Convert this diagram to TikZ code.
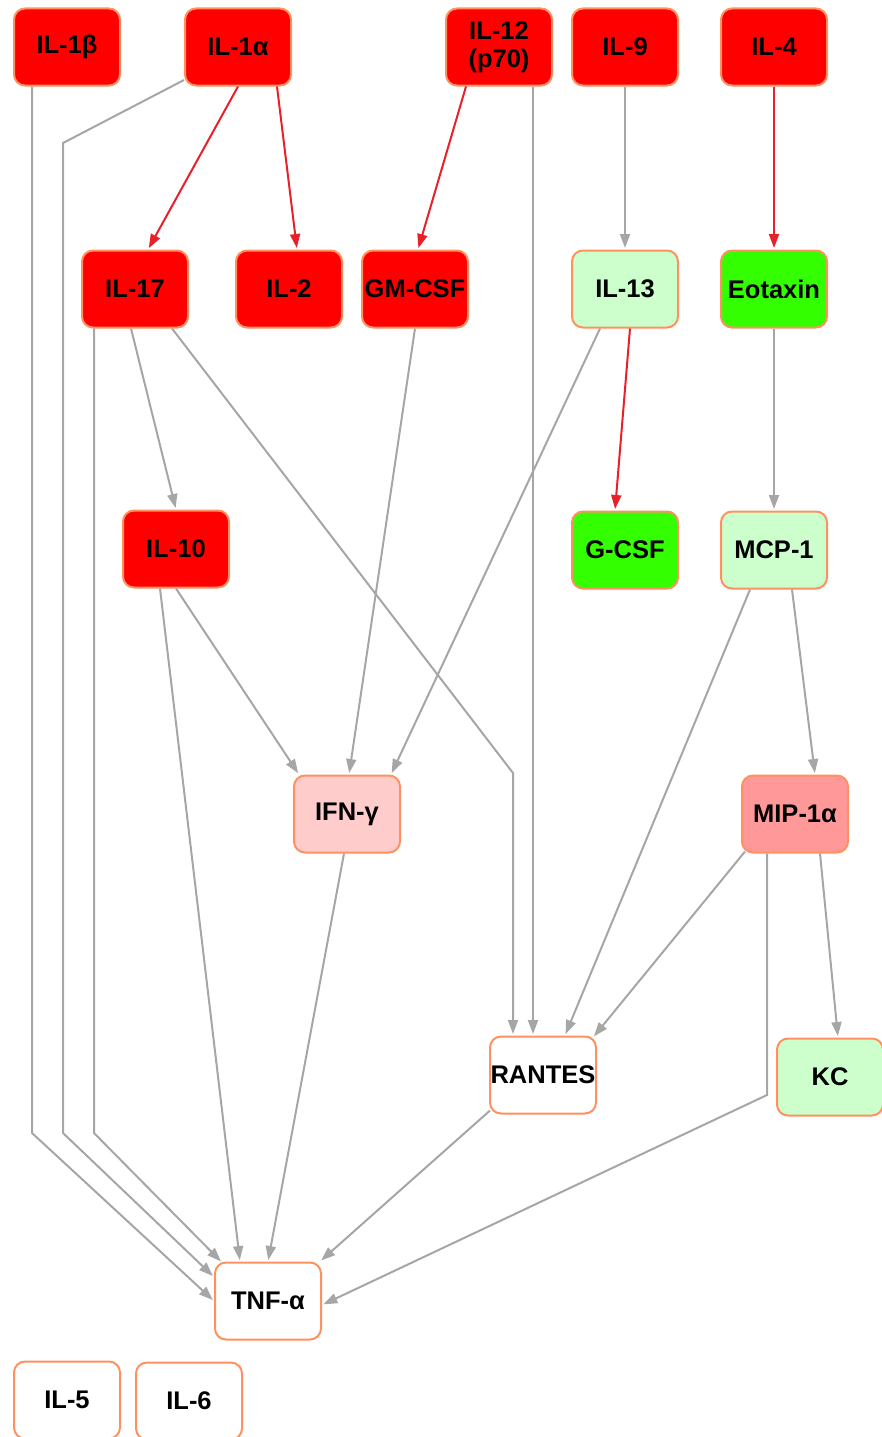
\documentclass[tikz,border=0pt]{standalone}
\usepackage{fontspec}
\setmainfont{Liberation Sans}
\usetikzlibrary{arrows.meta,calc}

\definecolor{nodeborder}{HTML}{FF9160}
\definecolor{upred}{HTML}{FF0000}
\definecolor{lightgreen}{HTML}{CCFFCC}
\definecolor{brightgreen}{HTML}{33FF00}
\definecolor{lightpink}{HTML}{FFCCCC}
\definecolor{midpink}{HTML}{FF9999}
\definecolor{edgegray}{HTML}{A6A6A6}
\definecolor{edgered}{HTML}{E8202A}

\tikzset{
  cyto/.style={draw=nodeborder, line width=2pt, rounded corners=11pt,
    minimum width=106pt, minimum height=77pt, inner sep=0pt, align=center,
    font=\fontsize{25.5}{28}\selectfont\bfseries},
  upnode/.style={cyto, fill=upred},
  lgnode/.style={cyto, fill=lightgreen},
  bgnode/.style={cyto, fill=brightgreen},
  pknode/.style={cyto, fill=lightpink},
  mpnode/.style={cyto, fill=midpink},
  plainnode/.style={cyto, fill=white},
  link/.style={draw=edgegray, line width=2pt, shorten >=1.5pt,
    -{Triangle[length=14pt,width=10pt]}},
  redlink/.style={draw=edgered, line width=2pt, shorten >=1.5pt,
    -{Triangle[length=14pt,width=10pt]}},
}

\begin{document}
\begin{tikzpicture}[x=1pt,y=-1pt]
\useasboundingbox (0,0) rectangle (881,1437);

% cytokine nodes
\node[upnode] (il1b)  at (67,47)   {IL-1β};
\node[upnode] (il1a)  at (238,47)  {IL-1α};
\node[upnode] (il12)  at (499,47)  {IL-12\\(p70)};
\node[upnode] (il9)   at (625,47)  {IL-9};
\node[upnode] (il4)   at (774,47)  {IL-4};

\node[upnode] (il17)  at (135,289) {IL-17};
\node[upnode] (il2)   at (289,289) {IL-2};
\node[upnode] (gmcsf) at (415,289) {GM-CSF};
\node[lgnode] (il13)  at (625,289) {IL-13};
\node[bgnode] (eotax) at (774,289) {Eotaxin};

\node[upnode] (il10)  at (176,549) {IL-10};
\node[bgnode] (gcsf)  at (625,550) {G-CSF};
\node[lgnode] (mcp1)  at (774,550) {MCP-1};

\node[pknode] (ifng)  at (347,814) {IFN-γ};
\node[mpnode] (mip)   at (795,814) {MIP-1α};

\node[plainnode] (rantes) at (543,1075) {RANTES};
\node[lgnode]    (kc)     at (830,1077) {KC};

\node[plainnode] (tnf) at (268,1301) {TNF-α};
\node[plainnode] (il5) at (67,1400)  {IL-5};
\node[plainnode] (il6) at (189,1401) {IL-6};

% bend points of routed links
\coordinate (b1b) at (32,1133);
\coordinate (b1a1) at (63,143);
\coordinate (b1a2) at (63,1133);
\coordinate (b17) at (94,1133);
\coordinate (b17r) at (513,773);
\coordinate (bmip) at (767,1095);

% red links
\draw[redlink] (il1a.south) -- ($(il17.north)+(13,0)$);
\draw[redlink] ($(il1a.south)+(39,0)$) -- ($(il2.north)+(8,0)$);
\draw[redlink] ($(il12.south)+(-33,0)$) -- ($(gmcsf.north)+(3,0)$);
\draw[redlink] ($(il13.south)+(5,0)$) -- ($(gcsf.north)+(-10,0)$);
\draw[redlink] (il4.south) -- (eotax.north);

% gray links
\draw[link] ($(il1b.south)+(-35,0)$) -- (b1b) -- (tnf.west);
\draw[link] ($(il1a.west)+(0,33)$) -- (b1a1) -- (b1a2) -- ($(tnf.west)+(0,-24)$);
\draw[link] ($(il17.south)+(-41,0)$) -- (b17) -- ($(tnf.north)+(-46,1)$);
\draw[link] ($(il12.south)+(34,0)$) -- ($(rantes.north)+(-10,0)$);
\draw[link] (il9.south) -- (il13.north);
\draw[link] ($(il17.south)+(-4,0)$) -- (il10.north);
\draw[link] ($(il17.south)+(37,0)$) -- (b17r) -- ($(rantes.north)+(-30,0)$);
\draw[link] (gmcsf.south) -- ($(ifng.north)+(2,0)$);
\draw[link] ($(il13.south)+(-25,0)$) -- ($(ifng.north)+(44,0)$);
\draw[link] (eotax.south) -- (mcp1.north);
\draw[link] (il10.south) -- ($(ifng.north)+(-48,0)$);
\draw[link] ($(il10.south)+(-16,0)$) -- ($(tnf.north)+(-28,0)$);
\draw[link] ($(mcp1.south)+(-24,0)$) -- ($(rantes.north)+(22,0)$);
\draw[link] ($(mcp1.south)+(18,0)$) -- ($(mip.north)+(20,0)$);
\draw[link] ($(ifng.south)+(-3,0)$) -- (tnf.north);
\draw[link] ($(mip.south)+(-50,-2)$) -- ($(rantes.north)+(50,2)$);
\draw[link] ($(mip.south)+(25,0)$) -- ($(kc.north)+(8,0)$);
\draw[link] ($(mip.south)+(-28,0)$) -- (bmip) -- ($(tnf.east)+(0,4)$);
\draw[link] ($(rantes.south west)+(1,-4)$) -- ($(tnf.north east)+(-2,0)$);
\end{tikzpicture}
\end{document}
